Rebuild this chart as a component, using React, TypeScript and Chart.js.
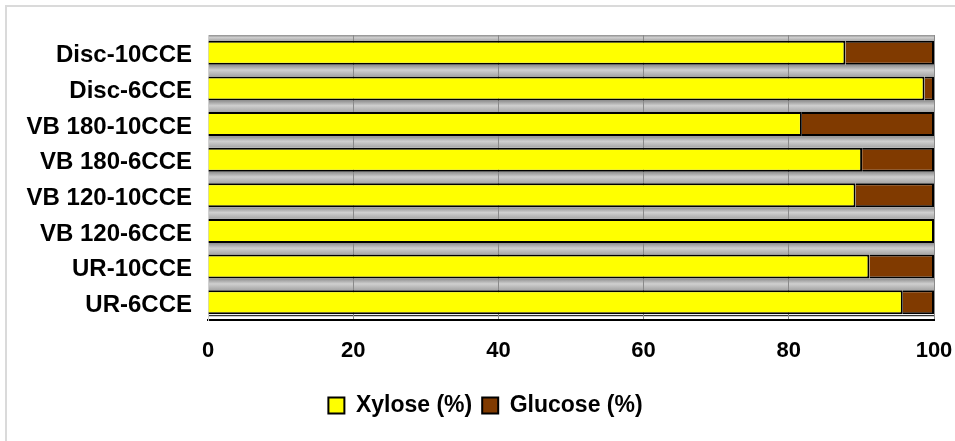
import React, { useEffect, useRef } from "react";
import { Chart, registerables } from "chart.js";

Chart.register(...registerables);

const categories = [
  "Disc-10CCE",
  "Disc-6CCE",
  "VB 180-10CCE",
  "VB 180-6CCE",
  "VB 120-10CCE",
  "VB 120-6CCE",
  "UR-10CCE",
  "UR-6CCE",
];
const xylose = [87.8, 98.7, 81.8, 90.1, 89.2, 100, 91.1, 95.7];
const glucose = [12.2, 1.3, 18.2, 9.9, 10.8, 0, 8.9, 4.3];
const xTicks = [0, 20, 40, 60, 80, 100];

const FONT = '"Liberation Sans", Arial, Helvetica, sans-serif';

const bgPlugin = {
  id: "bgPlugin",
  afterLayout(chart: any) {
    // nudge legend to sit under the plot like the reference
    if (chart.legend) {
      chart.legend.left += 8;
      chart.legend.right += 8;
    }
  },
  beforeDraw(chart: any) {
    const { ctx, chartArea: ca } = chart;
    ctx.save();
    ctx.fillStyle = "#ffffff";
    ctx.fillRect(0, 0, chart.width, chart.height);
    // outer frame (top & left)
    ctx.fillStyle = "#dadada";
    ctx.fillRect(5, 5, chart.width - 5, 2);
    ctx.fillRect(5, 5, 2, chart.height - 5);
    // gray gaps between bars
    const meta = chart.getDatasetMeta(0);
    const bars = meta.data as any[];
    const drawGap = (y0: number, y1: number) => {
      if (y1 - y0 <= 0) return;
      const g = ctx.createLinearGradient(0, y0, 0, y1);
      g.addColorStop(0, "#8e8e8e");
      g.addColorStop(0.45, "#cfcfcf");
      g.addColorStop(1, "#a6a6a6");
      ctx.fillStyle = g;
      ctx.fillRect(ca.left, y0, ca.right - ca.left, y1 - y0);
    };
    let prev = ca.top;
    bars.forEach((b) => {
      const top = b.y - b.height / 2;
      drawGap(prev, top);
      prev = b.y + b.height / 2;
    });
    // floor
    ctx.fillStyle = "#ffffff";
    ctx.fillRect(ca.left, prev, ca.right - ca.left, ca.bottom - prev);
    ctx.strokeStyle = "#000";
    ctx.lineWidth = 1;
    ctx.beginPath();
    ctx.moveTo(ca.left, prev + 1.5);
    ctx.lineTo(ca.right, prev + 1.5);
    ctx.stroke();
    ctx.restore();
  },
};

export default function App() {
  const ref = useRef<HTMLCanvasElement>(null);

  useEffect(() => {
    if (!ref.current) return;
    Chart.defaults.font.family = FONT;
    const chart = new Chart(ref.current, {
      type: "bar",
      data: {
        labels: categories,
        datasets: [
          {
            label: "Xylose (%)",
            data: xylose,
            backgroundColor: "#ffff00",
            borderColor: "#000000",
            borderWidth: 2,
            barPercentage: 0.675,
            categoryPercentage: 1,
          },
          {
            label: "Glucose (%)",
            data: glucose,
            backgroundColor: "#803a00",
            borderColor: "#000000",
            borderWidth: 2,
            barPercentage: 0.675,
            categoryPercentage: 1,
          },
        ],
      },
      options: {
        indexAxis: "y",
        responsive: false,
        animation: false,
        layout: { padding: { top: 35, left: 0, right: 0, bottom: 14 } },
        plugins: {
          tooltip: { enabled: false },
          legend: {
            position: "bottom",
            labels: {
              boxWidth: 16,
              boxHeight: 16,
              padding: 10,
              color: "#000",
              font: { size: 23, weight: "bold", family: FONT },
            },
          },
        },
        scales: {
          x: {
            stacked: true,
            min: 0,
            max: 100,
            afterBuildTicks: (s: any) => {
              s.ticks = xTicks.map((v) => ({ value: v }));
            },
            afterFit: (s: any) => {
              s.height = 64;
              s.paddingRight = 21;
              s.paddingLeft = 0;
            },
            grid: { color: "#8a8a8a", lineWidth: 1, drawTicks: false },
            border: { display: true, color: "#000", width: 2 },
            ticks: {
              padding: 18,
              color: "#000",
              font: { size: 22, weight: "bold", family: FONT },
              maxRotation: 0,
            },
          },
          y: {
            stacked: true,
            afterFit: (s: any) => {
              s.width = 208;
            },
            grid: { display: false, drawTicks: false },
            border: { display: true, color: "#d0d0d0", width: 1 },
            ticks: {
              padding: 16,
              labelOffset: 3,
              color: "#000",
              font: { size: 24, weight: "bold", family: FONT },
              autoSkip: false,
            },
          },
        },
      },
      plugins: [bgPlugin],
    });
    return () => chart.destroy();
  }, []);

  return (
    <div style={{ position: "fixed", left: 0, top: 0, width: 955, height: 441 }}>
      <canvas ref={ref} width={955} height={441} />
    </div>
  );
}
